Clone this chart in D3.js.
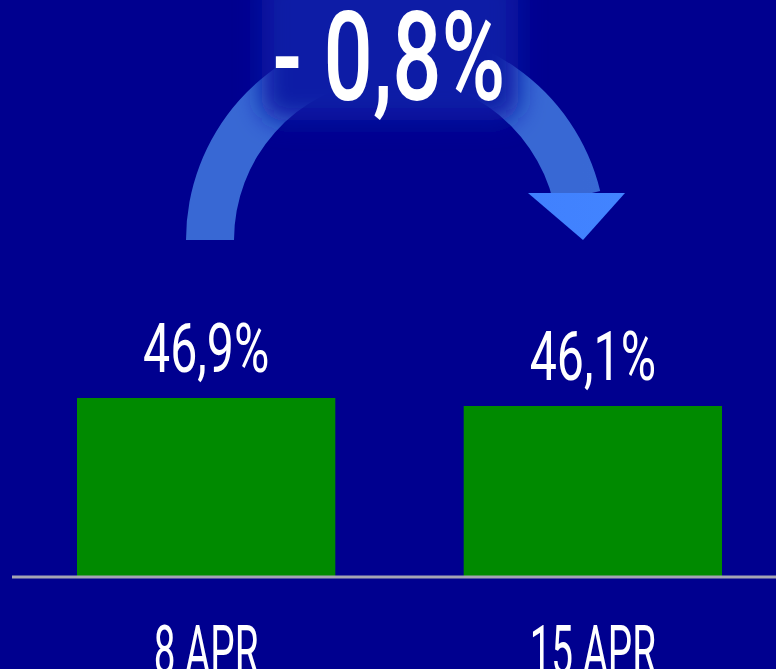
<!DOCTYPE html>
<html lang="en">
	<head>
		<meta charset="utf-8">
		<title>Change 8 APR - 15 APR</title>
		<style type="text/css">

		body {
			background-color: #00008f;
			margin: 0px;
			padding: 0px;
			overflow: hidden;
		}

		svg {
			display: block;
		}

		.label {
			fill: white;
			font-family: 'Roboto', sans-serif;
			text-anchor: middle;
		}

		</style>
	</head>
	<body>
		<div id="chart"></div>

		<script src="https://cdn.jsdelivr.net/npm/d3@7"></script>
		<script type="text/javascript">

			const categories = ["8 APR", "15 APR"];
			const values = [46.9, 46.1];
			const valueLabels = ["46,9%", "46,1%"];

			const width = 776,
				height = 669,
				baseY = 576,
				squeeze = 0.7;

			const svg = d3.select("#chart")
				.append("svg")
				.attr("width", width)
				.attr("height", height);

			svg.append("rect")
				.attr("width", width)
				.attr("height", height)
				.attr("fill", "#00008f");

			const defs = svg.append("defs");

			const grad = defs.append("linearGradient")
				.attr("id", "arrowGrad")
				.attr("gradientUnits", "userSpaceOnUse")
				.attr("x1", 186).attr("x2", 625)
				.attr("y1", 0).attr("y2", 0);
			grad.append("stop").attr("offset", "0%").attr("stop-color", "#3868d4");
			grad.append("stop").attr("offset", "26%").attr("stop-color", "#3a6ad8");
			grad.append("stop").attr("offset", "74%").attr("stop-color", "#4080fe");
			grad.append("stop").attr("offset", "100%").attr("stop-color", "#4284ff");

			defs.append("filter")
				.attr("id", "glow")
				.attr("x", "-40%").attr("y", "-50%")
				.attr("width", "180%").attr("height", "200%")
				.append("feGaussianBlur")
				.attr("stdDeviation", 13);

			// scales
			const xScale = d3.scaleBand()
				.domain(categories)
				.range([19, 780])
				.paddingInner(0.332)
				.paddingOuter(0.15);

			// axis does not start at zero in the original
			const yScale = d3.scaleLinear()
				.domain([29.1, 46.9])
				.range([baseY, 398]);

			// bars
			svg.selectAll(".bar")
				.data(values)
				.enter()
				.append("rect")
				.attr("class", "bar")
				.attr("x", function(_, i){ return xScale(categories[i]); })
				.attr("width", xScale.bandwidth())
				.attr("y", function(d){ return yScale(d); })
				.attr("height", function(d){ return baseY - yScale(d); })
				.attr("fill", "#008a00");

			// baseline
			svg.append("line")
				.attr("x1", 12)
				.attr("x2", width)
				.attr("y1", baseY + 1)
				.attr("y2", baseY + 1)
				.attr("stroke", "#a4a4b4")
				.attr("stroke-width", 3);

			// value labels
			svg.selectAll(".valueLabel")
				.data(values)
				.enter()
				.append("g")
				.attr("transform", function(d, i){
					const cx = xScale(categories[i]) + xScale.bandwidth() / 2;
					return "translate(" + cx + "," + (yScale(d) - 26) + ") scale(" + squeeze + ",1)";
				})
				.append("text")
				.attr("class", "label")
				.style("font-size", "69px")
				.text(function(_, i){ return valueLabels[i]; });

			// category labels
			svg.selectAll(".catLabel")
				.data(categories)
				.enter()
				.append("g")
				.attr("transform", function(d){
					const cx = xScale(d) + xScale.bandwidth() / 2;
					return "translate(" + cx + ",674) scale(0.56,1)";
				})
				.append("text")
				.attr("class", "label")
				.style("font-size", "69px")
				.text(function(d){ return d; });

			// curved arrow
			const cx = 396, cy = 240, rIn = 162, rOut = 210, headY = 193;
			const endAngle = Math.atan2(Math.sqrt(186 * 186 - (cy - headY) * (cy - headY)), cy - headY);

			const arc = d3.arc()
				.innerRadius(rIn)
				.outerRadius(rOut)
				.startAngle(-Math.PI / 2)
				.endAngle(endAngle + 0.02);

			const arrow = svg.append("g");

			arrow.append("path")
				.attr("transform", "translate(" + cx + "," + cy + ")")
				.attr("d", arc())
				.attr("fill", "url(#arrowGrad)");

			arrow.append("path")
				.attr("d", "M528," + headY + "L625," + headY + "L583,240Z")
				.attr("fill", "url(#arrowGrad)");

			// glow behind the change text
			svg.append("rect")
				.attr("x", 262)
				.attr("y", -30)
				.attr("width", 256)
				.attr("height", 150)
				.attr("rx", 20)
				.attr("fill", "#0a1ea6")
				.attr("filter", "url(#glow)");

			const change = d3.format(".1f")(Math.abs(values[1] - values[0])).replace(".", ",");
			const sign = values[1] < values[0] ? "- " : "+ ";

			svg.append("g")
				.attr("transform", "translate(389,100) scale(" + squeeze + ",1)")
				.append("text")
				.attr("class", "label")
				.style("font-size", "124px")
				.style("font-weight", 500)
				.text(sign + change + "%");

		</script>
	</body>
</html>
